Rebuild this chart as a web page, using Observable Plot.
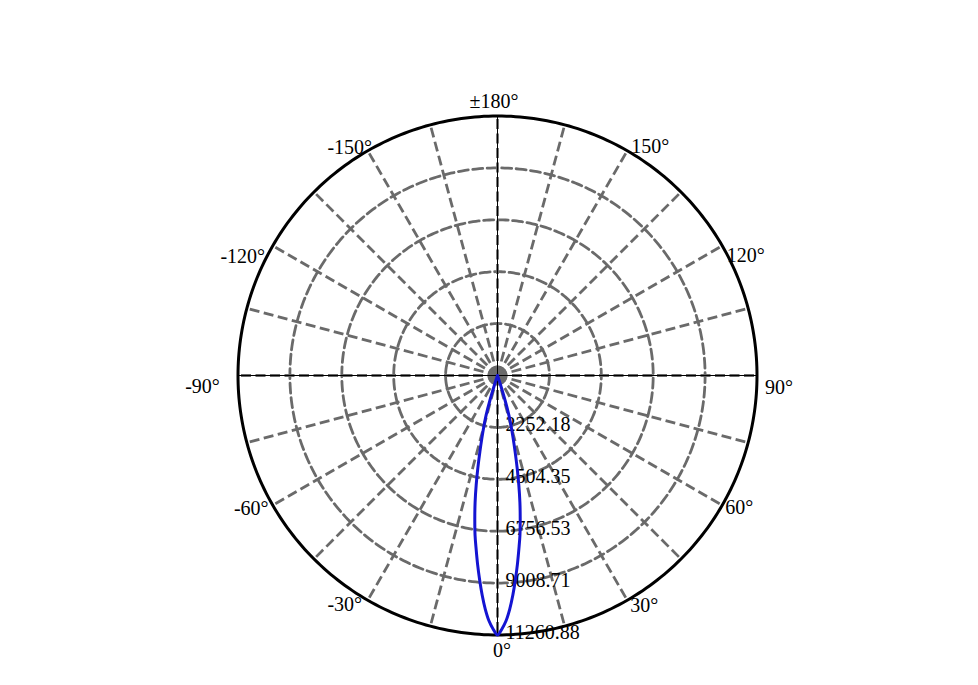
<!DOCTYPE html>
<html>
<head>
<meta charset="utf-8">
<script src="https://cdn.jsdelivr.net/npm/d3@7"></script>
<script src="https://cdn.jsdelivr.net/npm/@observablehq/plot@0.6"></script>
<style>
  html, body { margin: 0; padding: 0; background: #fff; }
</style>
</head>
<body>
<script>
// ---- Data ----
const maxValue = 11260.88;
const ringValues = [2252.18, 4504.35, 6756.53, 9008.71, 11260.88];
const ringLabels = ["2252.18", "4504.35", "6756.53", "9008.71", "11260.88"];
const spokeAngles = [0, 15, 30, 45, 60, 75, 90, 105, 120, 135, 150, 165, 180, 195, 210, 225, 240, 255, 270, 285, 300, 315, 330, 345];
const angleLabelAngles = [0, 30, 60, 90, 120, 150, 180, -150, -120, -90, -60, -30];
const angleLabelTexts = ["0°", "30°", "60°", "90°", "120°", "150°", "±180°", "-150°", "-120°", "-90°", "-60°", "-30°"];
const beamAngles = [-20, -19, -18, -17, -16, -15, -14, -13, -12, -11, -10, -9, -8, -7, -6, -5, -4, -3, -2, -1,
  0, 1, 2, 3, 4, 5, 6, 7, 8, 9, 10, 11, 12, 13, 14, 15, 16, 17, 18, 19, 20];
const beamIntensity = [0, 80, 400, 1100, 1800, 2300, 2800, 3400, 4100, 4850, 5600, 6300, 7000, 7600, 8250, 8900, 9550, 10150, 10650, 11000,
  11260.88, 11000, 10650, 10150, 9550, 8900, 8250, 7600, 7000, 6300, 5600, 4850, 4100, 3400, 2800, 2300, 1800, 1100, 400, 80, 0];

// ---- Helpers ----
const rad = (a) => a * Math.PI / 180;
const px = (v, a) => v * Math.sin(rad(a));
const py = (v, a) => -v * Math.cos(rad(a));

const circleSteps = d3.range(0, 361, 1);
const innerRings = ringValues.slice(0, -1);
const ringPts = innerRings.flatMap((v) => circleSteps.map((a) => ({ring: v, a, v})));
const outerPts = circleSteps.map((a) => ({a, v: maxValue}));
const beam = beamAngles.map((a, i) => ({a, v: beamIntensity[i]}));

// label nudges (pixels) relative to the point on the outer circle
const labelNudge = {
  "0": [4.5, 15.5], "30": [17, 5], "60": [17, 2.5], "90": [22, 12.5], "120": [23.5, 10], "150": [23, -4],
  "180": [-3.5, -14], "-150": [-18, -3.5], "-120": [-30, 11], "-90": [-35.5, 11.5], "-60": [-21.5, 3.5], "-30": [-23, 4]
};

const gray = "#6a6a6a";
const dash = "10,4.5";
const font = "Liberation Serif, Times New Roman, serif";

const angleLabelMarks = angleLabelAngles.map((a, i) => {
  const [dx, dy] = labelNudge[String(a)];
  return Plot.text([a], {
    x: (d) => px(maxValue, d),
    y: (d) => py(maxValue, d),
    text: () => angleLabelTexts[i],
    dx, dy,
    textAnchor: "middle",
    lineAnchor: "middle",
    fontSize: 20,
    fill: "black"
  });
});

const chart = Plot.plot({
  width: 978,
  height: 685,
  marginLeft: 237.5,
  marginRight: 221.5,
  marginTop: 115.5,
  marginBottom: 50.5,
  x: {domain: [-maxValue, maxValue], axis: null},
  y: {domain: [-maxValue, maxValue], axis: null},
  style: {fontFamily: font, background: "white", overflow: "visible"},
  marks: [
    Plot.line(ringPts, {x: (d) => px(d.v, d.a), y: (d) => py(d.v, d.a), z: "ring", stroke: gray, strokeWidth: 2.8, strokeDasharray: dash}),
    Plot.link(spokeAngles, {x1: () => 0, y1: () => 0, x2: (a) => px(maxValue, a), y2: (a) => py(maxValue, a), stroke: gray, strokeWidth: 2.8, strokeDasharray: dash}),
    Plot.ruleX([0], {stroke: "black", strokeWidth: 1}),
    Plot.ruleY([0], {stroke: "black", strokeWidth: 1}),
    Plot.line(outerPts, {x: (d) => px(d.v, d.a), y: (d) => py(d.v, d.a), stroke: "black", strokeWidth: 3}),
    Plot.text(ringValues, {x: () => 0, y: (d) => -d, text: (d, i) => ringLabels[i], textAnchor: "start", lineAnchor: "middle", dx: 8, dy: -2.5, fontSize: 20, fill: "black"}),
    ...angleLabelMarks,
    Plot.line(beam, {x: (d) => px(d.v, d.a), y: (d) => py(d.v, d.a), stroke: "#1414d2", strokeWidth: 3, curve: "catmull-rom"})
  ]
});
document.body.appendChild(chart);
</script>
</body>
</html>
